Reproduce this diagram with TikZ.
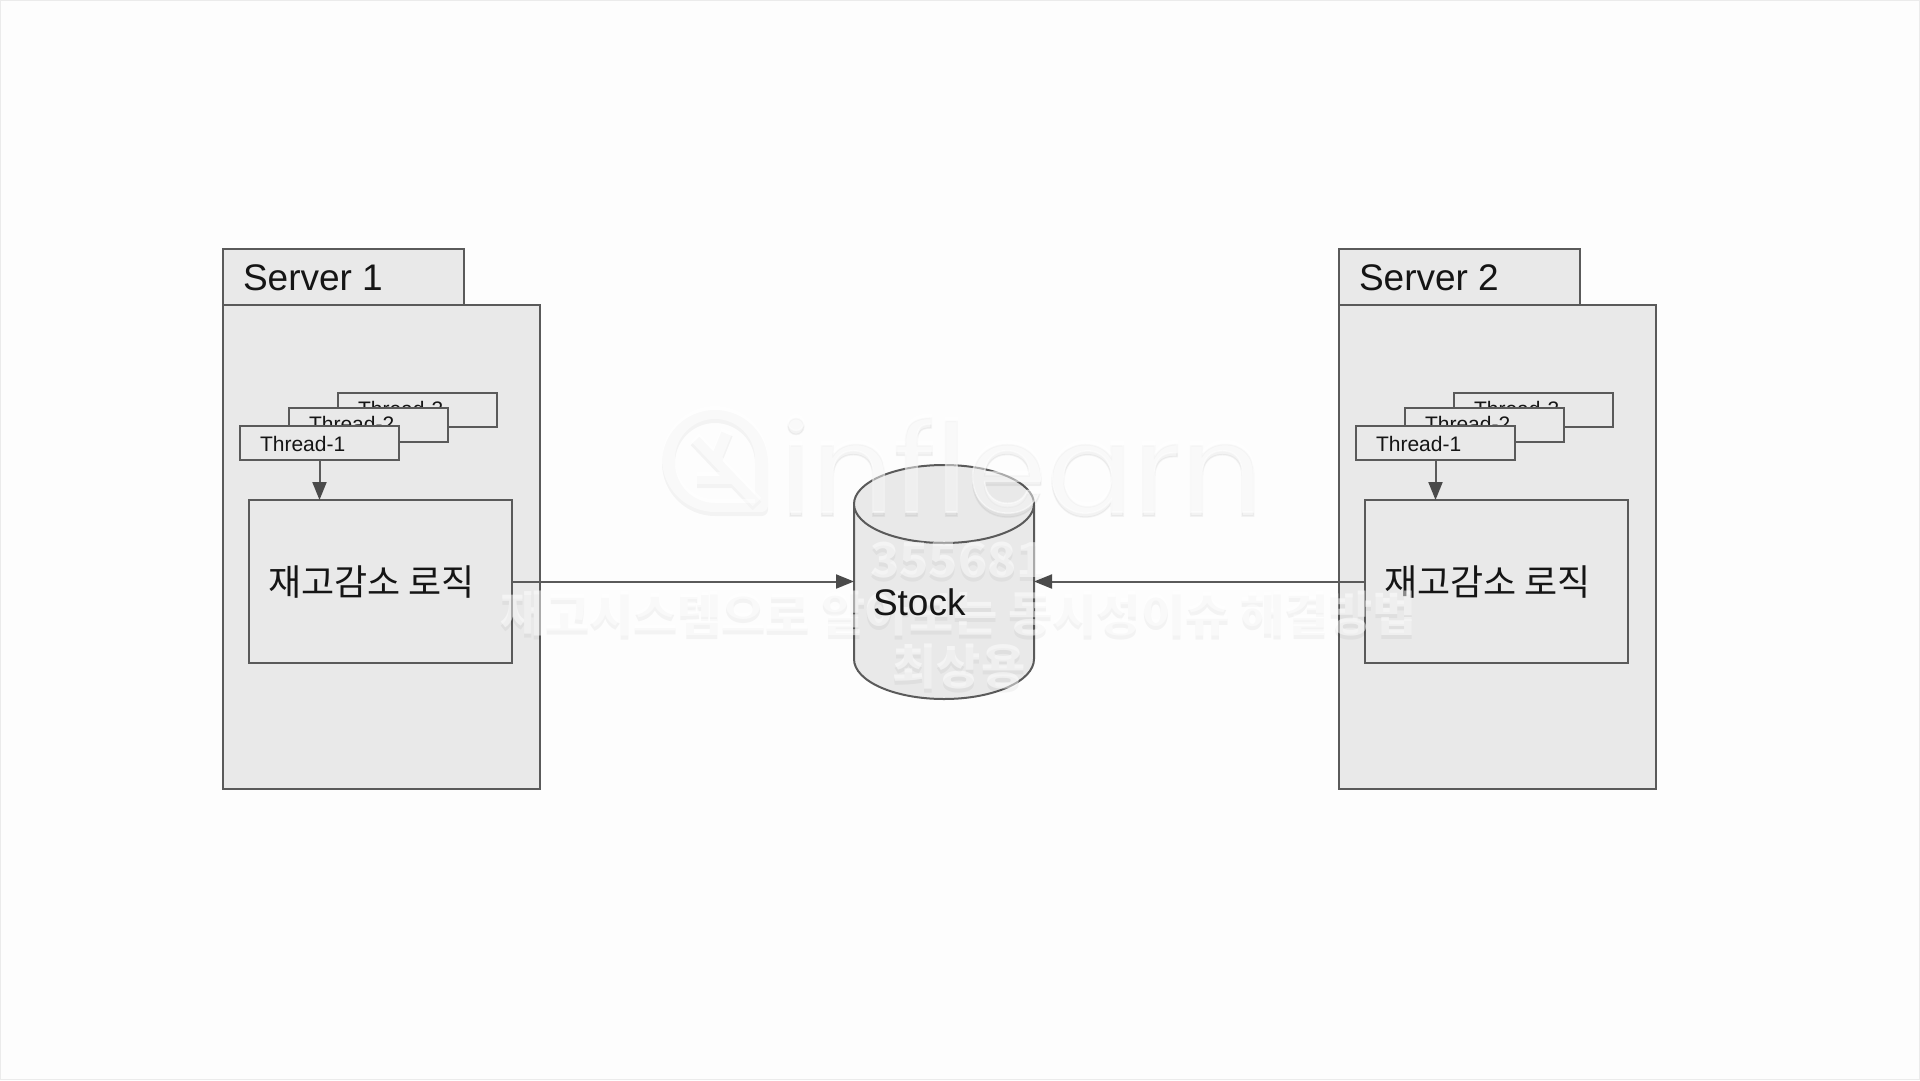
\documentclass[tikz,border=0pt]{standalone}
\usepackage{fontspec}
\setmainfont{Liberation Sans}
\newfontfamily\krfont{Noto Sans CJK KR}
\newfontfamily\logofont[FakeBold=1.2]{Poppins}
\usetikzlibrary{arrows.meta}
\definecolor{edge}{HTML}{5A5A5A}
\definecolor{panel}{HTML}{E9E9E9}
\definecolor{page}{HTML}{FDFDFD}
\definecolor{ink}{HTML}{151515}
\definecolor{tip}{HTML}{4A4A4A}
\tikzset{
  boxed/.style={draw=edge,fill=panel,line width=2pt,rectangle,inner sep=0pt,outer sep=0pt},
  lbl/.style={anchor=base west,inner sep=0pt,outer sep=0pt,text=ink},
  big/.style={lbl,font=\fontsize{37}{37}\selectfont},
  small/.style={lbl,font=\fontsize{21}{21}\selectfont},
  korean/.style={lbl,font=\krfont\fontsize{36}{36}\selectfont},
  link/.style={draw=edge,line width=2pt,-{Triangle[length=18pt,width=14pt,color=tip]}},
  markfaint/.style={inner sep=0pt,text=white,text opacity=.5},
  markshade/.style={inner sep=0pt,text=black,text opacity=.04},
  wmfont/.style={font=\krfont\bfseries\fontsize{48}{48}\selectfont},
  logotext/.style={anchor=base west,font=\logofont\fontsize{128}{128}\selectfont}
}
\newcommand{\serverpart}[2]{%
  \begin{scope}[xshift=#1pt]
    \node[boxed,minimum width=241pt,minimum height=56pt] (tab#2) at (343.5,277) {};
    \node[boxed,minimum width=317pt,minimum height=484pt] (body#2) at (381.5,547) {};
    \node[big] (title#2) at (243,290) {Server #2};
    \node[boxed,minimum width=159pt,minimum height=34pt] (tc#2) at (417.5,410) {};
    \node[small] (tct#2) at (358,416.5) {Thread-3};
    \node[boxed,minimum width=159pt,minimum height=34pt] (tb#2) at (368.5,425) {};
    \node[small] (tbt#2) at (309,431.5) {Thread-2};
    \node[boxed,minimum width=159pt,minimum height=34pt] (ta#2) at (319.5,443) {};
    \node[small] (tat#2) at (260,451) {Thread-1};
    \node[boxed,minimum width=263pt,minimum height=163pt] (logic#2) at (380.5,581.5) {};
    \node[korean] (logict#2) at (268,595) {재고감소 로직};
    \draw[link] (ta#2.south) -- (ta#2.south |- logic#2.north);
  \end{scope}}
\newcommand{\droplogo}[2]{%
  \begin{scope}[shift={(#1,#2)}]
    \draw[line width=13pt,line join=round] (761.5,459) arc[start angle=0,end angle=-270,x radius=46.5,y radius=46.5] -- (761.5,505.5) -- cycle;
    \draw[line width=12pt] (695,437) -- (757,502) (727,430) -- (716,457) (697,478) -- (735,478);
  \end{scope}}
\begin{document}
\begin{tikzpicture}[x=1pt,y=-1pt]
\useasboundingbox (0,0) rectangle (1920,1080);
\fill[page] (0,0) rectangle (1920,1080);
\draw[black!8,line width=1pt] (0.5,0.5) rectangle (1919.5,1079.5);
\serverpart{0}{1}
\serverpart{1116}{2}
% cylinder
\draw[edge,fill=panel,line width=2pt] (854,505) -- (854,659) arc[start angle=180,end angle=0,x radius=90,y radius=40] -- (1034,505);
\draw[edge,fill=panel,line width=2pt] (944,504) ellipse[x radius=90,y radius=39];
\node[minimum width=180pt,minimum height=234pt,inner sep=0pt,outer sep=0pt] (stock) at (944,582) {};
\draw[link] (logic1.east) -- (logic1.east -| stock.west);
\draw[link] (logic2.west) -- (logic2.west -| stock.east);
% watermark: one soft shade, then the pale face
\foreach \dy/\s/\c/\a in {4/markshade/black/.04,0/markfaint/white/.5}{
  \begin{scope}[draw=\c,draw opacity=\a]
    \droplogo{0}{\dy}
  \end{scope}
  \node[\s,logotext] at (780,512+\dy) {inflearn};
  \node[\s,wmfont] at (958,560+\dy) {355681};
  \node[\s,wmfont] at (959,614+\dy) {재고시스템으로 알아보는 동시성이슈 해결방법};
  \node[\s,wmfont] at (959,667+\dy) {최상용};
}
\node[big] (stocklabel) at (873,615) {Stock};
\end{tikzpicture}
\end{document}
